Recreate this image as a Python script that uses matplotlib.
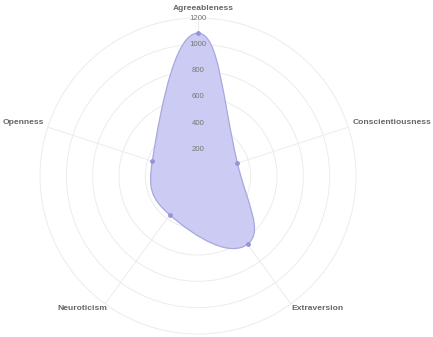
import numpy as np
import matplotlib.pyplot as plt
from matplotlib.path import Path
from matplotlib.patches import PathPatch, Circle

plt.rcParams['font.family'] = ['Liberation Sans', 'DejaVu Sans']

labels = ['Agreeableness', 'Conscientiousness', 'Extraversion', 'Neuroticism', 'Openness']
values = [1085, 315, 640, 365, 365]
ticks = [200, 400, 600, 800, 1000, 1200]
r_max = 1200

# canvas layout in pixels
W, H = 433, 337
cx, cy, rad = 198, 176, 158
scale = r_max / rad

fig = plt.figure(figsize=(W / 100, H / 100), dpi=100)
ax = fig.add_axes([0, 0, 1, 1])
ax.set_xlim(-cx * scale, (W - cx) * scale)
ax.set_ylim(-(H - cy) * scale, cy * scale)
ax.axis('off')

n = len(labels)
ang = np.pi / 2 - np.arange(n) * 2 * np.pi / n

# grid
for t in ticks:
    ax.add_patch(Circle((0, 0), t, fill=False, ec='#ececec', lw=0.7, zorder=1))
for a in ang:
    ax.plot([0, r_max * np.cos(a)], [0, r_max * np.sin(a)], color='#ececec', lw=0.7, zorder=1)

# data points
v = np.array(values, dtype=float)
px = v * np.cos(ang)
py = v * np.sin(ang)
pts = np.column_stack([px, py])

# closed spline like chart.js
tension = 0.5
verts, codes = [pts[0]], [Path.MOVETO]
cps = []
for i in range(n):
    p0, p1, p2 = pts[i - 1], pts[i], pts[(i + 1) % n]
    d01 = np.hypot(*(p1 - p0))
    d12 = np.hypot(*(p2 - p1))
    s01 = d01 / (d01 + d12)
    s12 = d12 / (d01 + d12)
    c_prev = p1 - tension * s01 * (p2 - p0)
    c_next = p1 + tension * s12 * (p2 - p0)
    cps.append((c_prev, c_next))
for i in range(n):
    j = (i + 1) % n
    verts += [cps[i][1], cps[j][0], pts[j]]
    codes += [Path.CURVE4] * 3
verts.append(pts[0])
codes.append(Path.CLOSEPOLY)
path = Path(verts, codes)
ax.add_patch(PathPatch(path, fc='#cbcbf3', ec='#a8a8de', lw=0.9, zorder=2))
ax.scatter(px, py, s=6, color='#9494d6', zorder=3)

# tick labels
for t in ticks:
    ax.text(0, t, str(t), ha='center', va='center', fontsize=5.6, color='#777777', zorder=4)

# point labels (pixel positions)
lab_pos = [(203, 8, 'center'), (353, 123, 'left'), (291, 309, 'left'),
           (107, 309, 'right'), (44, 123, 'right')]
for lab, (x, y, ha) in zip(labels, lab_pos):
    ax.text((x - cx) * scale, (cy - y) * scale, lab, ha=ha, va='center',
            fontsize=6.1, fontweight='bold', color='#666666')

fig.savefig('out.png', dpi=100)
